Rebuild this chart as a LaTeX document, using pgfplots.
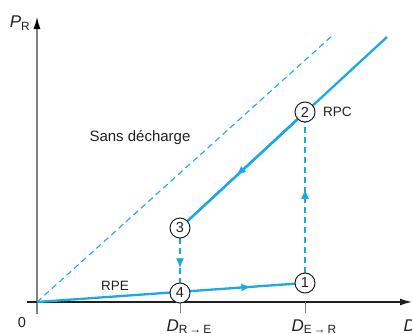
\documentclass[border=0pt]{standalone}
\usepackage{pgfplots}
\pgfplotsset{compat=1.18}
\usepackage{fontspec}
\setmainfont{Liberation Sans}
\usetikzlibrary{decorations.markings,arrows.meta}
\definecolor{cy}{HTML}{1CA8E4}
\definecolor{tx}{HTML}{231F20}
\begin{document}
\begin{tikzpicture}[font=\fontsize{14.5}{17}\selectfont,
  midarrow/.style={postaction={decorate},decoration={markings,mark=at position #1 with {\arrow{Latex[length=10pt,width=8pt]}}}}]
\begin{axis}[scale only axis, width=412pt, height=333pt,
  xmin=-37, xmax=375, ymin=-31, ymax=302, axis lines=none, clip=false]
% axes
\addplot[gray, line width=1.3pt, -{Latex[length=12pt,width=7pt,color=black]}] coordinates {(0,-12) (0,285)};
\addplot[tx, line width=1.2pt, -{Latex[length=12pt,width=7pt]}] coordinates {(-10,0) (375,0)};
\addplot[gray, line width=1pt] coordinates {(143,0) (143,-11)};
\addplot[gray, line width=1pt] coordinates {(268,0) (268,-11)};
% sans decharge
\addplot[cy, line width=1.1pt, dash pattern=on 6pt off 4pt] coordinates {(0,0) (296,267)};
% RPE
\addplot[cy, line width=2.3pt, midarrow=0.8] coordinates {(0,0) (268,19)};
% RPC
\addplot[cy, line width=2.3pt] coordinates {(143,74) (350,265)};
\addplot[cy, line width=2.3pt, midarrow=0.55] coordinates {(268,190) (143,74)};
% dashed transitions
\addplot[cy, line width=1.1pt, dash pattern=on 6pt off 4pt, midarrow=0.55] coordinates {(268,19) (268,190)};
\addplot[cy, line width=1.1pt, dash pattern=on 6pt off 4pt, midarrow=0.62] coordinates {(143,74) (143,9)};
% circles with numbers
\addplot[only marks, mark=*, mark size=10pt, mark options={fill=white, draw=tx, line width=1pt},
  point meta=explicit symbolic, nodes near coords,
  nodes near coords style={anchor=center, text=tx, font=\fontsize{14.5}{17}\selectfont}]
  coordinates {(143,9)[4] (268,19)[1] (143,74)[3] (268,190)[2]};
% labels
\node[tx, font=\fontsize{15}{17}\selectfont] at (axis cs:103,164) {Sans décharge};
\node[tx, font=\fontsize{13.5}{16}\selectfont] at (axis cs:78,16) {RPE};
\node[tx, anchor=west, font=\fontsize{13.5}{16}\selectfont, inner sep=0pt] at (axis cs:286,190) {RPC};
\node[tx] at (axis cs:-15,-21) {0};
\node[tx, font=\fontsize{17}{19}\selectfont] at (axis cs:-17,279) {\textit{P}\textsubscript{R}};
\node[tx, anchor=base west, font=\fontsize{17}{19}\selectfont] at (axis cs:126,-29) {\textit{D}\textsubscript{R\,→\,E}};
\node[tx, anchor=base west, font=\fontsize{17}{19}\selectfont] at (axis cs:251,-29) {\textit{D}\textsubscript{E\,→\,R}};
\node[tx, anchor=base west, font=\fontsize{17}{19}\selectfont] at (axis cs:363,-29) {\textit{D}};
\end{axis}
\pgfresetboundingbox
\path (current axis.south west) rectangle (current axis.north east);
\end{tikzpicture}
\end{document}
